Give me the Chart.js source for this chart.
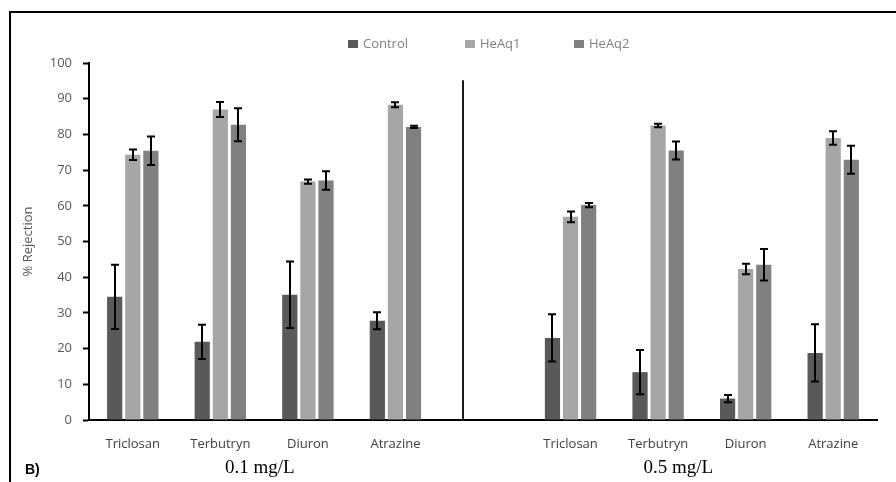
<!DOCTYPE html>
<html>
<head>
<meta charset="utf-8">
<script src="https://cdn.jsdelivr.net/npm/chart.js@4/dist/chart.umd.min.js"></script>
<style>
  html, body { margin: 0; padding: 0; background: #fff; }
  #wrap { width: 896px; height: 482px; position: relative; }
</style>
</head>
<body>
<div id="wrap"><canvas id="c" width="896" height="482"></canvas></div>
<script>
const categories = ["Triclosan", "Terbutryn", "Diuron", "Atrazine", "", "Triclosan", "Terbutryn", "Diuron", "Atrazine"];
const seriesNames = ["Control", "HeAq1", "HeAq2"];
const controlValues = [34.5, 21.9, 35.1, 27.8, null, 23.0, 13.4, 6.0, 18.8];
const heaq1Values   = [74.3, 87.0, 66.8, 88.3, null, 56.9, 82.5, 42.3, 79.0];
const heaq2Values   = [75.4, 82.7, 67.1, 82.1, null, 60.2, 75.5, 43.5, 72.9];
const controlErr = [9.0, 4.8, 9.3, 2.4, null, 6.6, 6.2, 1.0, 8.0];
const heaq1Err   = [1.5, 2.1, 0.6, 0.7, null, 1.5, 0.5, 1.5, 1.9];
const heaq2Err   = [4.0, 4.6, 2.6, 0.3, null, 0.6, 2.5, 4.4, 3.9];
const yTicks = [0, 10, 20, 30, 40, 50, 60, 70, 80, 90, 100];
const groupLabels = ["0.1 mg/L", "0.5 mg/L"];
const panelLabel = "B)";
const yTitle = "% Rejection";

const colors = ["#595959", "#a6a6a6", "#808080"];
const errs = [controlErr, heaq1Err, heaq2Err];

const decorPlugin = {
  id: 'decor',
  afterDatasetsDraw(chart) {
    const ctx = chart.ctx;
    const y = chart.scales.y;
    ctx.save();
    ctx.strokeStyle = '#000';
    ctx.lineWidth = 2;
    chart.data.datasets.forEach((ds, di) => {
      const meta = chart.getDatasetMeta(di);
      meta.data.forEach((bar, i) => {
        const v = ds.data[i], e = errs[di][i];
        if (v == null || e == null) return;
        const cx = Math.round(bar.x);
        const yt = y.getPixelForValue(v + e), yb = y.getPixelForValue(v - e);
        ctx.beginPath();
        ctx.moveTo(cx, yt); ctx.lineTo(cx, yb);
        ctx.moveTo(cx - 4, yt); ctx.lineTo(cx + 4, yt);
        ctx.moveTo(cx - 4, yb); ctx.lineTo(cx + 4, yb);
        ctx.stroke();
      });
    });
    ctx.restore();
  },
  afterDraw(chart) {
    const ctx = chart.ctx;
    const y = chart.scales.y, x = chart.scales.x;
    ctx.save();
    ctx.strokeStyle = '#1a1a1a';
    ctx.lineWidth = 2;
    const dx = Math.round(x.getPixelForValue(3.77));
    ctx.beginPath();
    ctx.moveTo(dx, y.getPixelForValue(95.2));
    ctx.lineTo(dx, y.getPixelForValue(0));
    ctx.stroke();
    ctx.strokeStyle = '#000';
    ctx.lineWidth = 2;
    ctx.strokeRect(10, 12, 900, 500);
    ctx.fillStyle = '#000';
    ctx.font = '19px "Liberation Serif", serif';
    ctx.textAlign = 'center';
    ctx.textBaseline = 'middle';
    ctx.fillText(groupLabels[0], x.getPixelForValue(1.45), 468);
    ctx.fillText(groupLabels[1], x.getPixelForValue(6.23), 468);
    ctx.font = 'bold 14px "Liberation Sans", sans-serif';
    ctx.textAlign = 'left';
    ctx.fillText(panelLabel, 25, 470);
    ctx.font = '13px "Open Sans", sans-serif';
    ctx.textBaseline = 'middle';
    const legendX = [348, 465, 574];
    chart.data.datasets.forEach((ds, di) => {
      const lx = legendX[di];
      ctx.fillStyle = ds.backgroundColor;
      ctx.fillRect(lx, 40, 10, 8);
      ctx.fillStyle = '#7f7f7f';
      ctx.fillText(ds.label, lx + 15, 44);
    });
    ctx.restore();
  }
};

new Chart(document.getElementById('c'), {
  type: 'bar',
  data: {
    labels: categories,
    datasets: [
      { label: seriesNames[0], data: controlValues, backgroundColor: colors[0] },
      { label: seriesNames[1], data: heaq1Values, backgroundColor: colors[1] },
      { label: seriesNames[2], data: heaq2Values, backgroundColor: colors[2] }
    ]
  },
  options: {
    responsive: false,
    animation: false,
    devicePixelRatio: 1,
    layout: { padding: { left: 14, right: 19, top: 63, bottom: 0 } },
    datasets: { bar: { categoryPercentage: 0.62, barPercentage: 0.84 } },
    plugins: { legend: { display: false }, tooltip: { enabled: false } },
    scales: {
      x: {
        grid: { display: true, drawOnChartArea: false, drawTicks: false },
        border: { display: true, color: '#000', width: 2 },
        ticks: { color: '#404040', font: { family: '"Open Sans", sans-serif', size: 13 }, padding: 16, maxRotation: 0, autoSkip: false },
        afterFit(s) { s.height = 62; }
      },
      y: {
        min: 0, max: 100,
        afterBuildTicks(s) { s.ticks = yTicks.map(v => ({ value: v })); },
        grid: { display: true, drawOnChartArea: false, drawTicks: true, tickLength: 6, color: '#000', tickWidth: 2 },
        border: { display: true, color: '#000', width: 2 },
        ticks: { color: '#595959', font: { family: '"Open Sans", sans-serif', size: 13 }, padding: 11 },
        title: { display: true, text: yTitle, color: '#595959', font: { family: '"Open Sans", sans-serif', size: 13 }, padding: { top: 6, bottom: 0 } },
        afterFit(s) { s.width = 75; }
      }
    }
  },
  plugins: [decorPlugin]
});
</script>
</body>
</html>
